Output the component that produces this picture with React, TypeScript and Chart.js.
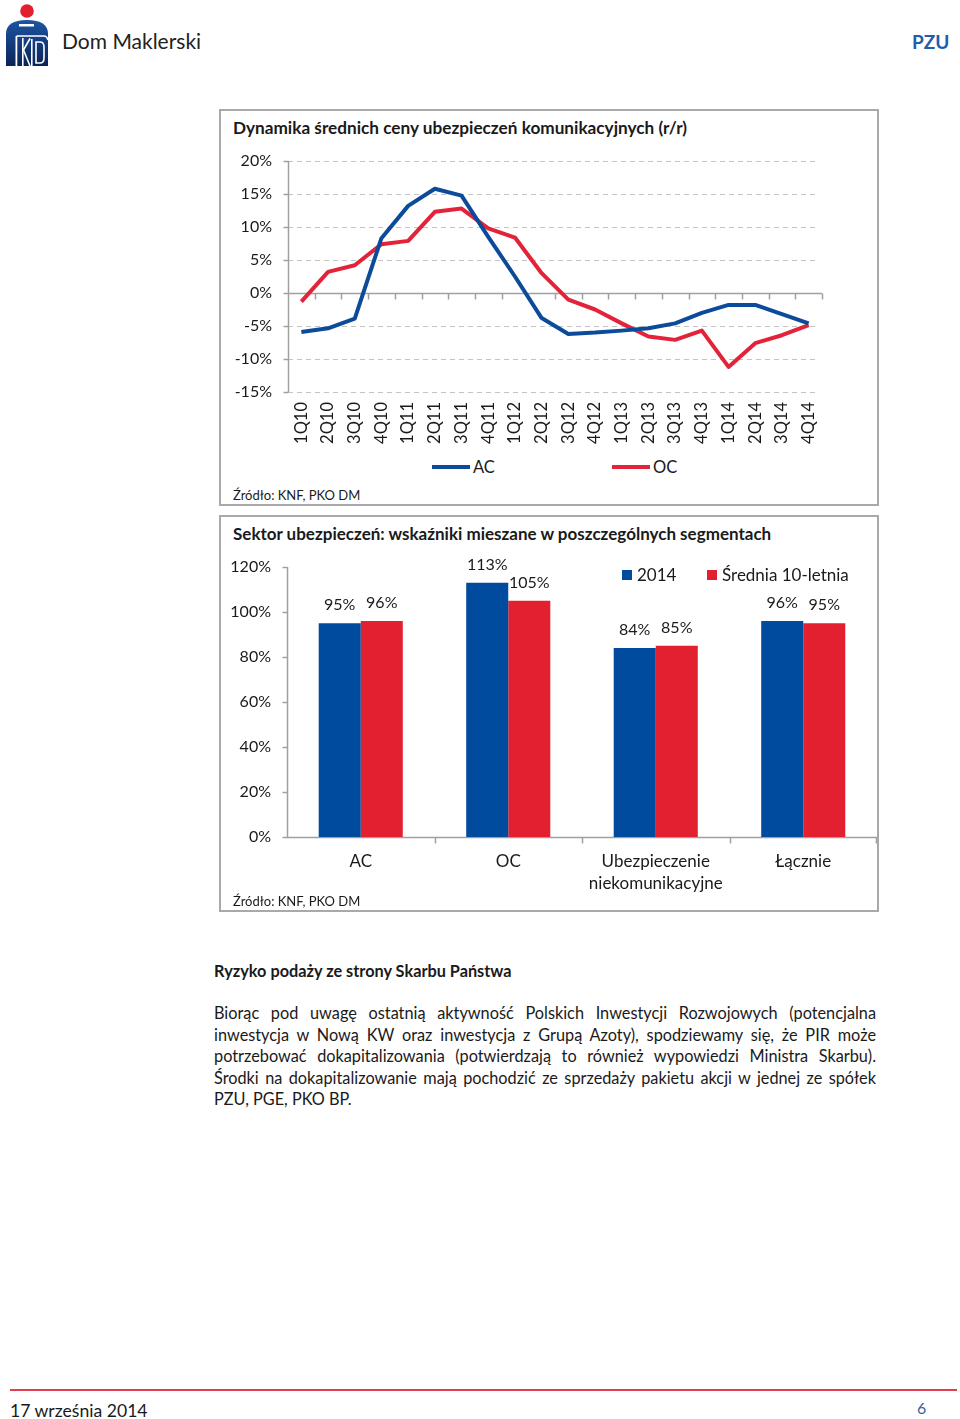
import React, { useEffect, useRef } from 'react';
import { Chart, registerables } from 'chart.js';

Chart.register(...registerables);

// ---------- DATA ----------
const quarters = ['1Q10', '2Q10', '3Q10', '4Q10', '1Q11', '2Q11', '3Q11', '4Q11', '1Q12', '2Q12', '3Q12', '4Q12', '1Q13', '2Q13', '3Q13', '4Q13', '1Q14', '2Q14', '3Q14', '4Q14'];
const acValues = [-5.9, -5.35, -3.9, 8.3, 13.2, 15.8, 14.75, 8.5, 2.5, -3.8, -6.2, -6.0, -5.7, -5.35, -4.6, -3.0, -1.8, -1.8, -3.2, -4.6];
const ocValues = [-1.3, 3.2, 4.2, 7.4, 7.9, 12.3, 12.8, 9.8, 8.4, 3.0, -1.0, -2.5, -4.6, -6.6, -7.1, -5.7, -11.2, -7.6, -6.4, -4.85];
const lineMin = -15;
const lineMax = 20;
const lineStep = 5;

const segments = [['AC'], ['OC'], ['Ubezpieczenie', 'niekomunikacyjne'], ['Łącznie']];
const values2014 = [95, 113, 84, 96];
const valuesAvg = [96, 105, 85, 95];
const barMin = 0;
const barMax = 120;
const barStep = 20;

const paragraphLines = [
  'Biorąc pod uwagę ostatnią aktywność Polskich Inwestycji Rozwojowych (potencjalna',
  'inwestycja w Nową KW oraz inwestycja z Grupą Azoty), spodziewamy się, że PIR może',
  'potrzebować dokapitalizowania (potwierdzają to również wypowiedzi Ministra Skarbu).',
  'Środki na dokapitalizowanie mają pochodzić ze sprzedaży pakietu akcji w jednej ze spółek',
  'PZU, PGE, PKO BP.',
];

// ---------- STYLE ----------
const FONT = 'Lato, "Open Sans", sans-serif';
const BLUE = '#0b4b99';
const RED = '#e2233a';
const BAR_BLUE = '#004b9e';
const BAR_RED = '#e3202f';
const AXIS = '#a0a0a0';
const GRID = '#c4c4c4';
const TXT = '#1a1a1a';

if (typeof document !== 'undefined') {
  document.body.style.margin = '0';
}

function line(ctx: CanvasRenderingContext2D, x1: number, y1: number, x2: number, y2: number) {
  ctx.beginPath();
  ctx.moveTo(x1, y1);
  ctx.lineTo(x2, y2);
  ctx.stroke();
}

const lineGridPlugin = {
  id: 'lineGrid',
  beforeDatasetsDraw(chart: any) {
    const { ctx, chartArea, scales } = chart;
    const y = scales.y;
    const x = scales.x;
    const { left, right, top, bottom } = chartArea;
    ctx.save();
    ctx.lineWidth = 1;
    ctx.strokeStyle = GRID;
    ctx.setLineDash([5, 4]);
    y.ticks.forEach((t: any) => {
      if (t.value === 0) return;
      const py = Math.round(y.getPixelForValue(t.value)) + 0.5;
      line(ctx, left, py, right - 3, py);
    });
    ctx.setLineDash([]);
    ctx.strokeStyle = AXIS;
    ctx.lineWidth = 1.5;
    const ax = Math.round(left) + 0.5;
    line(ctx, ax, top, ax, bottom);
    y.ticks.forEach((t: any) => {
      const py = Math.round(y.getPixelForValue(t.value)) + 0.5;
      line(ctx, ax - 5, py, ax, py);
    });
    const zy = Math.round(y.getPixelForValue(0)) + 0.5;
    line(ctx, left, zy, right, zy);
    const n = x.ticks.length;
    for (let i = 1; i <= n; i++) {
      const px = i < n ? (x.getPixelForValue(i - 1) + x.getPixelForValue(i)) / 2 : right;
      const rx = Math.round(px) + 0.5;
      line(ctx, rx, zy, rx, zy + 6);
    }
    ctx.restore();
  },
};

const barAxisPlugin = {
  id: 'barAxis',
  beforeDatasetsDraw(chart: any) {
    const { ctx, chartArea, scales } = chart;
    const y = scales.y;
    const x = scales.x;
    const { left, right, top, bottom } = chartArea;
    ctx.save();
    ctx.strokeStyle = AXIS;
    ctx.lineWidth = 1.5;
    const ax = Math.round(left) + 0.5;
    line(ctx, ax, top, ax, bottom);
    y.ticks.forEach((t: any) => {
      const py = Math.round(y.getPixelForValue(t.value)) + 0.5;
      line(ctx, ax - 5, py, ax, py);
    });
    const by = Math.round(bottom) + 0.5;
    line(ctx, left, by, right, by);
    const n = x.ticks.length;
    for (let i = 1; i <= n; i++) {
      const px = i < n ? (x.getPixelForValue(i - 1) + x.getPixelForValue(i)) / 2 : right - 1;
      const rx = Math.round(px) + 0.5;
      line(ctx, rx, by, rx, by + 6);
    }
    ctx.restore();
  },
  afterDatasetsDraw(chart: any) {
    const { ctx } = chart;
    ctx.save();
    ctx.fillStyle = TXT;
    ctx.font = `16px ${FONT}`;
    ctx.textAlign = 'center';
    ctx.textBaseline = 'middle';
    chart.data.datasets.forEach((ds: any, di: number) => {
      const meta = chart.getDatasetMeta(di);
      meta.data.forEach((el: any, i: number) => {
        ctx.fillText(ds.data[i] + '%', el.x, el.y - 18);
      });
    });
    ctx.restore();
  },
};

function LineChart() {
  const ref = useRef<HTMLCanvasElement>(null);
  useEffect(() => {
    const chart = new Chart(ref.current!, {
      type: 'line',
      data: {
        labels: quarters,
        datasets: [
          { label: 'AC', data: acValues, borderColor: BLUE, borderWidth: 4, pointRadius: 0, tension: 0, borderJoinStyle: 'round', fill: false },
          { label: 'OC', data: ocValues, borderColor: RED, borderWidth: 4, pointRadius: 0, tension: 0, borderJoinStyle: 'round', fill: false },
        ],
      },
      options: {
        responsive: false,
        animation: false,
        layout: { padding: { left: 0, right: 55, top: 0, bottom: 0 } },
        plugins: { legend: { display: false }, tooltip: { enabled: false } },
        scales: {
          x: {
            offset: true,
            grid: { display: false, drawTicks: false },
            border: { display: false },
            ticks: { autoSkip: false, minRotation: 90, maxRotation: 90, padding: 10, color: TXT, font: { family: FONT, size: 16.5 } },
            afterFit(s: any) { s.height = 58; },
          },
          y: {
            min: lineMin,
            max: lineMax,
            grid: { display: false, drawTicks: false },
            border: { display: false },
            ticks: { stepSize: lineStep, padding: 16, color: TXT, font: { family: FONT, size: 16, lineHeight: '18px' }, callback: (v: any) => v + '%' },
            afterFit(s: any) { s.width = 68; },
          },
        },
      } as any,
      plugins: [lineGridPlugin],
    });
    return () => chart.destroy();
  }, []);
  return <canvas ref={ref} width={657} height={314} style={{ position: 'absolute', left: 220, top: 136, width: 657, height: 314 }} />;
}

function BarChart() {
  const ref = useRef<HTMLCanvasElement>(null);
  useEffect(() => {
    const chart = new Chart(ref.current!, {
      type: 'bar',
      data: {
        labels: segments,
        datasets: [
          { label: '2014', data: values2014, backgroundColor: BAR_BLUE, categoryPercentage: 0.57, barPercentage: 1 },
          { label: 'Średnia 10-letnia', data: valuesAvg, backgroundColor: BAR_RED, categoryPercentage: 0.57, barPercentage: 1 },
        ],
      },
      options: {
        responsive: false,
        animation: false,
        layout: { padding: { left: 0, right: 0, top: 0, bottom: 0 } },
        plugins: { legend: { display: false }, tooltip: { enabled: false } },
        scales: {
          x: {
            grid: { display: false, drawTicks: false },
            border: { display: false },
            ticks: { padding: 14, color: TXT, font: { family: FONT, size: 17, lineHeight: '22px' } },
            afterFit(s: any) { s.height = 73; },
          },
          y: {
            min: barMin,
            max: barMax,
            grid: { display: false, drawTicks: false },
            border: { display: false },
            ticks: { stepSize: barStep, padding: 16, color: TXT, font: { family: FONT, size: 16, lineHeight: '18px' }, callback: (v: any) => v + '%' },
            afterFit(s: any) { s.width = 67; },
          },
        },
      } as any,
      plugins: [barAxisPlugin],
    });
    return () => chart.destroy();
  }, []);
  return <canvas ref={ref} width={657} height={368} style={{ position: 'absolute', left: 220, top: 542, width: 657, height: 368 }} />;
}

function T(props: { x: number; y: number; size: number; bold?: boolean; color?: string; children: React.ReactNode; w?: number; align?: any }) {
  const lh = Math.round(props.size * 1.3);
  return (
    <div
      style={{
        position: 'absolute',
        left: props.x,
        top: props.y - lh / 2,
        fontSize: props.size,
        lineHeight: lh + 'px',
        fontWeight: props.bold ? 700 : 400,
        color: props.color || TXT,
        whiteSpace: 'nowrap',
        width: props.w,
        textAlign: props.align,
      }}
    >
      {props.children}
    </div>
  );
}

function Logo() {
  return (
    <svg width={56} height={70} viewBox="0 0 56 70" style={{ position: 'absolute', left: 0, top: 0 }}>
      <defs>
        <linearGradient id="lg" x1="0" y1="0" x2="0" y2="1">
          <stop offset="0" stopColor="#1d55a3" />
          <stop offset="1" stopColor="#0a2357" />
        </linearGradient>
      </defs>
      <circle cx={27} cy={11} r={6.8} fill="#e3202f" />
      <path d="M6 66 L6 34 Q6 20 27 20 Q48 20 48 34 L48 66 Z" fill="url(#lg)" />
      <rect x={19} y={24} width={15} height={2.5} fill="#fff" />
      <path d="M16.5 36 L44 36 Q47 36 48 40" stroke="#fff" strokeWidth={1.6} fill="none" />
      <rect x={15.5} y={36} width={1.8} height={30} fill="#fff" />
      <path d="M23.5 50 L30 38.5" stroke="#fff" strokeWidth={1.6} />
      <path d="M23.5 50 L30 66" stroke="#fff" strokeWidth={1.6} />
      <rect x={22} y={38} width={1.6} height={28} fill="#fff" />
      <rect x={31} y={39} width={1.6} height={27} fill="#fff" />
      <path d="M36 42 L40 42 Q44 42 44 47 L44 58 Q44 63 40 63 L36 63 Z" stroke="#fff" strokeWidth={1.6} fill="none" />
    </svg>
  );
}

export default function App() {
  return (
    <div style={{ position: 'relative', width: 960, height: 1419, overflow: 'hidden', fontFamily: FONT, background: '#fff' }}>
      <Logo />
      <T x={62} y={40} size={21} color="#222">Dom Maklerski</T>
      <T x={912} y={41} size={19} bold color="#1f5cab">PZU</T>

      {/* Chart 1 box */}
      <div style={{ position: 'absolute', left: 219, top: 109, width: 656, height: 393, border: '2px solid #a9a9a9' }} />
      <T x={233} y={128} size={17.2} bold>Dynamika średnich ceny ubezpieczeń komunikacyjnych (r/r)</T>
      <LineChart />
      <div style={{ position: 'absolute', left: 432, top: 465, width: 38, height: 4, background: BLUE }} />
      <T x={473} y={467} size={16.5}>AC</T>
      <div style={{ position: 'absolute', left: 612, top: 465, width: 38, height: 4, background: RED }} />
      <T x={653} y={467} size={16.5}>OC</T>
      <T x={233} y={495} size={13}>Źródło: KNF, PKO DM</T>

      {/* Chart 2 box */}
      <div style={{ position: 'absolute', left: 219, top: 515, width: 656, height: 393, border: '2px solid #a9a9a9' }} />
      <T x={233} y={534} size={17} bold>Sektor ubezpieczeń: wskaźniki mieszane w poszczególnych segmentach</T>
      <BarChart />
      <div style={{ position: 'absolute', left: 622, top: 570, width: 10, height: 10, background: BAR_BLUE }} />
      <T x={637} y={575} size={17}>2014</T>
      <div style={{ position: 'absolute', left: 707, top: 570, width: 10, height: 10, background: BAR_RED }} />
      <T x={722} y={575} size={17}>Średnia 10-letnia</T>
      <T x={233} y={901} size={13}>Źródło: KNF, PKO DM</T>

      {/* Text */}
      <T x={214} y={970} size={16.3} bold>Ryzyko podaży ze strony Skarbu Państwa</T>
      <div style={{ position: 'absolute', left: 214, top: 1002, width: 662, fontSize: 16.3, lineHeight: '21.5px', color: TXT }}>
        {paragraphLines.map((l, i) => (
          <div key={i} style={{ textAlign: 'justify', textAlignLast: i < paragraphLines.length - 1 ? 'justify' : 'left', whiteSpace: 'nowrap' } as any}>
            {l}
          </div>
        ))}
      </div>

      {/* Footer */}
      <div style={{ position: 'absolute', left: 10, top: 1389, width: 947, height: 2, background: '#e0404c' }} />
      <T x={10} y={1410} size={17.6}>17 września 2014</T>
      <T x={917} y={1407} size={16} color="#3a5f98">6</T>
    </div>
  );
}
